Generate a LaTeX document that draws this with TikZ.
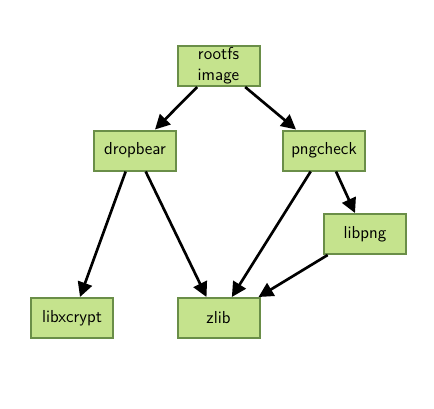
\documentclass[tikz,border=0pt]{standalone}
\usepackage{xcolor}
\definecolor{pkg_fill}{RGB}{197,227,141}
\definecolor{pkg_border}{RGB}{106,142,72}
\usepackage{tikz}
\usetikzlibrary{arrows.meta}
\renewcommand{\familydefault}{\sfdefault}

\begin{document}
\begin{tikzpicture}[x=0.75pt, y=-0.75pt,
  pkg/.style={draw=pkg_border, fill=pkg_fill, line width=1.5pt, minimum width=61.5pt, minimum height=30pt, inner sep=0pt, align=center, font=\fontsize{13}{15.5}\selectfont},
  dep/.style={line width=2pt, -{Triangle[length=11pt, width=11pt]}}]
\useasboundingbox (0, 0) rectangle (434, 408);

\node[pkg] (rootfs) at (218.5, 66) {rootfs\\image};
\node[pkg] (dropbear) at (135, 150.5) {dropbear};
\node[pkg] (pngcheck) at (324, 150.5) {pngcheck};
\node[pkg] (libpng) at (365, 234) {libpng};
\node[pkg] (libxcrypt) at (72, 318) {libxcrypt};
\node[pkg] (zlib) at (218.5, 318) {zlib};

\draw [dep] ([xshift=-16pt]rootfs.south) -- ([xshift=15pt]dropbear.north);
\draw [dep] ([xshift=20pt]rootfs.south) -- ([xshift=-21pt]pngcheck.north);
\draw [dep] ([xshift=-7pt]dropbear.south) -- ([xshift=6pt]libxcrypt.north);
\draw [dep] ([xshift=8pt]dropbear.south) -- ([xshift=-9pt]zlib.north);
\draw [dep] ([xshift=-10pt]pngcheck.south) -- ([xshift=10pt]zlib.north);
\draw [dep] ([xshift=9pt]pngcheck.south) -- ([xshift=-7.5pt]libpng.north);
\draw [dep] ([xshift=-28pt]libpng.south) -- ([xshift=30pt]zlib.north);

\end{tikzpicture}
\end{document}
